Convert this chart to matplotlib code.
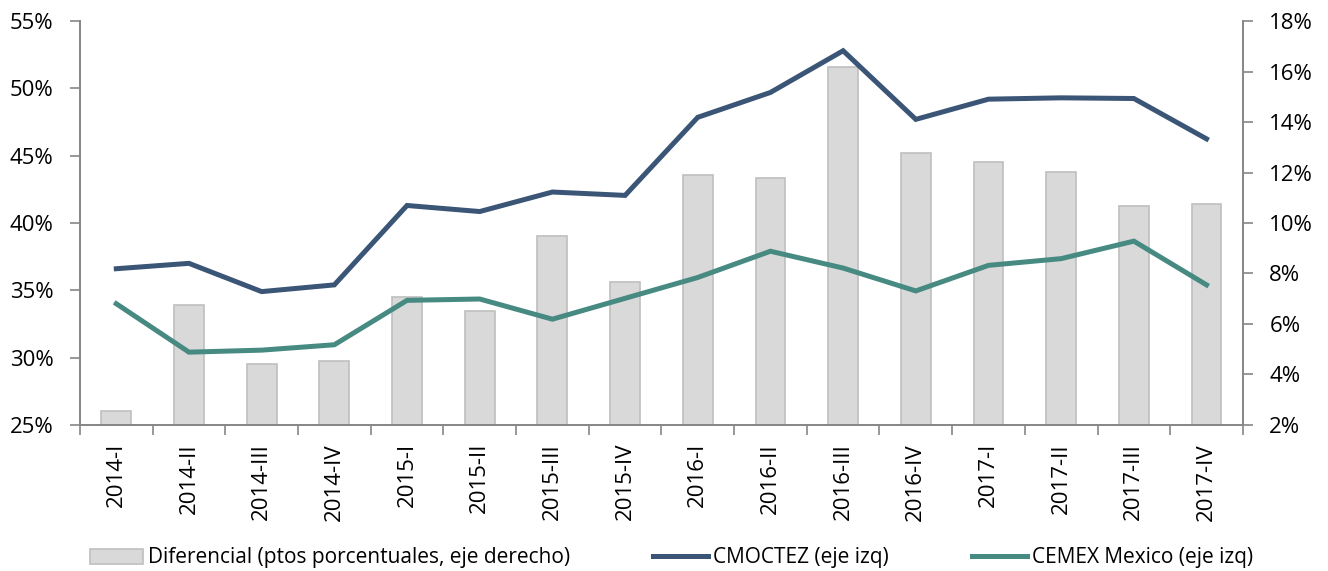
import numpy as np
import matplotlib
matplotlib.use("Agg")
import matplotlib.pyplot as plt
from matplotlib.ticker import FuncFormatter, FixedLocator

# datos
periodos = ["2014-I", "2014-II", "2014-III", "2014-IV",
            "2015-I", "2015-II", "2015-III", "2015-IV",
            "2016-I", "2016-II", "2016-III", "2016-IV",
            "2017-I", "2017-II", "2017-III", "2017-IV"]
diferencial = [2.55, 6.74, 4.41, 4.53, 7.06, 6.50, 9.47, 7.65,
               11.92, 11.80, 16.19, 12.78, 12.42, 12.01, 10.67, 10.74]
cmoctez = [36.6, 37.0, 34.9, 35.4, 41.3, 40.85, 42.3, 42.05,
           47.85, 49.7, 52.8, 47.7, 49.2, 49.3, 49.25, 46.25]
cemex = [34.0, 30.4, 30.55, 30.95, 34.25, 34.35, 32.85, 34.4,
         35.95, 37.9, 36.65, 34.95, 36.85, 37.35, 38.65, 35.4]

plt.rcParams['font.family'] = ['Open Sans', 'DejaVu Sans']

gris = "#868686"
fig = plt.figure(figsize=(13.28, 5.71), dpi=100)
ax = fig.add_axes([0.0602, 0.256, 0.8757, 0.707])
x = np.arange(len(periodos))

# barras en el eje derecho (ax), lineas en el izquierdo (ax2)
barras = ax.bar(x, diferencial, width=0.41, bottom=0, color="#d9d9d9",
                edgecolor="#bfbfbf", linewidth=1.2,
                label="Diferencial (ptos porcentuales, eje derecho)")
ax.set_ylim(2, 18)
ax.set_xlim(-0.5, len(periodos) - 0.5)

ax2 = ax.twinx()
l1, = ax2.plot(x, cmoctez, color="#3b5577", lw=3.6, solid_joinstyle="miter",
               label="CMOCTEZ (eje izq)")
l2, = ax2.plot(x, cemex, color="#468a82", lw=3.6, solid_joinstyle="miter",
               label="CEMEX Mexico (eje izq)")
ax2.set_ylim(25, 55)

# intercambiar lados de los ejes y
ax.yaxis.tick_right()
ax2.yaxis.tick_left()
ax.set_yticks(np.arange(2, 19, 2))
ax2.set_yticks(np.arange(25, 56, 5))
pct = FuncFormatter(lambda v, p: f"{v:.0f}%")
ax.yaxis.set_major_formatter(pct)
ax2.yaxis.set_major_formatter(pct)

ax.set_xticks(x)
ax.set_xticklabels(periodos, rotation=90, fontsize=16)
ax.tick_params(axis="x", length=0, pad=13)
ax.xaxis.set_minor_locator(FixedLocator(np.arange(-0.5, len(periodos), 1)))
ax.tick_params(axis="x", which="minor", length=7, color=gris, width=1.2)
ax.tick_params(axis="y", labelsize=16, length=7, color=gris, width=1.2, pad=12)
ax2.tick_params(axis="y", labelsize=16, length=7, color=gris, width=1.2, pad=12)

for a in (ax, ax2):
    a.spines["top"].set_visible(False)
    for s in ("left", "right", "bottom"):
        a.spines[s].set_color(gris)
        a.spines[s].set_linewidth(1.2)

# leyenda: tres entradas colocadas por separado
W, H = 1328.0, 571.0
for h, x0, hl in ((barras, 90, 2.55), (l1, 653, 2.65), (l2, 972, 2.65)):
    fig.legend(handles=[h], loc="center left", bbox_to_anchor=(x0 / W, 1 - 558 / H),
               frameon=False, fontsize=15, borderpad=0, borderaxespad=0,
               handlelength=hl, handleheight=0.7, handletextpad=0.25)

fig.savefig("out.png", dpi=100)
